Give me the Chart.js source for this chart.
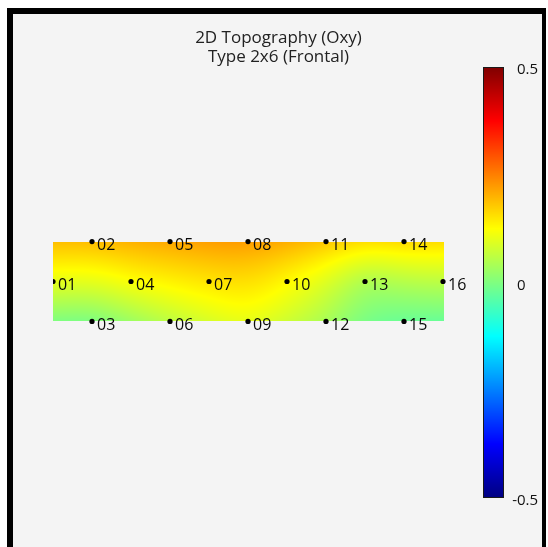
<!DOCTYPE html>
<html>
<head>
<meta charset="utf-8">
<script src="https://cdn.jsdelivr.net/npm/chart.js@4"></script>
<style>
  body { margin: 0; background: #fff; }
  #frame {
    position: absolute; left: 7px; top: 8px; width: 529px; height: 560px;
    border-left: 6px solid #000; border-top: 6px solid #000; border-right: 4px solid #000;
    background: #f4f4f4;
  }
  #topo { position: absolute; left: 0; top: 0; }
</style>
</head>
<body>
<div id="frame"></div>
<canvas id="topo" width="548" height="547"></canvas>
<script>
// canais do montage 2x6 (frontal)
const electrodes = ["01", "02", "03", "04", "05", "06", "07", "08", "09", "10", "11", "12", "13", "14", "15", "16"];
const colPos = [0, 1, 1, 2, 3, 3, 4, 5, 5, 6, 7, 7, 8, 9, 9, 10];
const rowPos = [0, 1, -1, 0, 1, -1, 0, 1, -1, 0, 1, -1, 0, 1, -1, 0];
// valores de Oxy
const oxyValues = [0.10, 0.19, 0.0, 0.12, 0.21, 0.06, 0.15, 0.22, 0.10, 0.13, 0.18, 0.04, 0.05, 0.16, -0.02, 0.06];
const cbTicks = [-0.5, 0, 0.5];
const cbMin = -0.5;
const cbMax = 0.5;

function clamp01(v) {
  return Math.max(0, Math.min(1, v));
}

// colormap jet
function jet(v) {
  const t = clamp01((v - cbMin) / (cbMax - cbMin));
  const r = clamp01(1.5 - Math.abs(4 * t - 3));
  const g = clamp01(1.5 - Math.abs(4 * t - 2));
  const b = clamp01(1.5 - Math.abs(4 * t - 1));
  return [Math.round(r * 255), Math.round(g * 255), Math.round(b * 255)];
}

// thin plate spline sobre os eletrodos
function tpsU(r) {
  return r < 1e-9 ? 0 : r * r * Math.log(r);
}

function montaTps() {
  const n = oxyValues.length;
  const m = n + 3;
  const A = [];
  for (let i = 0; i < m; i++) A.push(new Array(m + 1).fill(0));
  for (let i = 0; i < n; i++) {
    for (let j = 0; j < n; j++) {
      A[i][j] = tpsU(Math.hypot(colPos[i] - colPos[j], rowPos[i] - rowPos[j]));
    }
    A[i][n] = 1; A[i][n + 1] = colPos[i]; A[i][n + 2] = rowPos[i];
    A[n][i] = 1; A[n + 1][i] = colPos[i]; A[n + 2][i] = rowPos[i];
    A[i][m] = oxyValues[i];
  }
  // eliminação de Gauss
  for (let c = 0; c < m; c++) {
    let p = c;
    for (let r = c + 1; r < m; r++) if (Math.abs(A[r][c]) > Math.abs(A[p][c])) p = r;
    [A[c], A[p]] = [A[p], A[c]];
    for (let r = 0; r < m; r++) {
      if (r === c) continue;
      const f = A[r][c] / A[c][c];
      for (let k = c; k <= m; k++) A[r][k] -= f * A[c][k];
    }
  }
  const w = A.map((row, i) => row[m] / row[i]);
  return (x, y) => {
    let s = w[n] + w[n + 1] * x + w[n + 2] * y;
    for (let i = 0; i < n; i++) s += w[i] * tpsU(Math.hypot(x - colPos[i], y - rowPos[i]));
    return s;
  };
}

const tps = montaTps();

const heatmapPlugin = {
  id: "heatmap",
  beforeDatasetsDraw(chart) {
    const xs = chart.scales.x;
    const ys = chart.scales.y;
    const x0 = Math.round(xs.getPixelForValue(Math.min(...colPos)));
    const x1 = Math.round(xs.getPixelForValue(Math.max(...colPos))) + 1;
    const y0 = Math.round(ys.getPixelForValue(Math.max(...rowPos)));
    const y1 = Math.round(ys.getPixelForValue(Math.min(...rowPos)));
    const w = x1 - x0;
    const h = y1 - y0;
    const off = document.createElement("canvas");
    off.width = w;
    off.height = h;
    const octx = off.getContext("2d");
    const img = octx.createImageData(w, h);
    for (let j = 0; j < h; j++) {
      const yv = ys.getValueForPixel(y0 + j + 0.5);
      for (let i = 0; i < w; i++) {
        const xv = xs.getValueForPixel(x0 + i + 0.5);
        const c = jet(tps(xv, yv));
        const k = (j * w + i) * 4;
        img.data[k] = c[0];
        img.data[k + 1] = c[1];
        img.data[k + 2] = c[2];
        img.data[k + 3] = 255;
      }
    }
    octx.putImageData(img, 0, 0);
    chart.ctx.drawImage(off, x0, y0);
  },
};

const colorbarPlugin = {
  id: "colorbar",
  afterDraw(chart) {
    const ctx = chart.ctx;
    const cb = chart.scales.cb;
    const right = chart.chartArea.right;
    const left = right - 21;
    const top = Math.round(cb.getPixelForValue(cbMax));
    const bottom = Math.round(cb.getPixelForValue(cbMin));
    for (let y = top; y < bottom; y++) {
      const c = jet(cb.getValueForPixel(y + 0.5));
      ctx.fillStyle = `rgb(${c[0]},${c[1]},${c[2]})`;
      ctx.fillRect(left, y, right - left, 1);
    }
    ctx.strokeStyle = "#1a1a1a";
    ctx.lineWidth = 1;
    ctx.strokeRect(left + 0.5, top + 0.5, right - left - 1, bottom - top - 1);

    ctx.font = "15px 'Open Sans'";
    ctx.fillStyle = "#111";
    ctx.textBaseline = "middle";
    ctx.textAlign = "left";
    cbTicks.forEach((t) => {
      let x = right + 13;
      if (t < 0) x -= ctx.measureText("-").width;
      ctx.fillText(String(t), x, cb.getPixelForValue(t) + 3);
    });
  },
};

const labelPlugin = {
  id: "electrodeLabels",
  afterDatasetsDraw(chart) {
    const ctx = chart.ctx;
    const meta = chart.getDatasetMeta(0);
    ctx.save();
    ctx.font = "16px 'Open Sans'";
    ctx.fillStyle = "#0a0a0a";
    ctx.textBaseline = "middle";
    ctx.textAlign = "left";
    meta.data.forEach((pt, i) => {
      ctx.fillText(electrodes[i], pt.x + 5, pt.y + 4);
    });
    ctx.restore();
  },
};

const ctx = document.getElementById("topo").getContext("2d");

window.myChart = new Chart(ctx, {
  type: "scatter",
  data: {
    datasets: [
      {
        label: "Oxy",
        data: colPos.map((c, i) => ({ x: c, y: rowPos[i] })),
        backgroundColor: "#000",
        borderWidth: 0,
        pointRadius: 2.6,
      },
    ],
  },
  options: {
    responsive: false,
    animation: false,
    events: [],
    layout: {
      padding: { left: 53, right: 44, top: 25, bottom: 49 },
    },
    scales: {
      x: { type: "linear", display: false, min: 0, max: 11.564 },
      y: { type: "linear", display: false, min: -5.425, max: 5.375 },
      cb: { type: "linear", position: "right", display: false, min: cbMin, max: cbMax },
    },
    plugins: {
      legend: { display: false },
      tooltip: { enabled: false },
      title: {
        display: true,
        text: ["2D Topography (Oxy)", "Type 2x6 (Frontal)"],
        font: { family: "'Open Sans'", size: 17, weight: "normal", lineHeight: "19px" },
        color: "#222",
        padding: { top: 4, bottom: 0 },
      },
    },
  },
  plugins: [heatmapPlugin, colorbarPlugin, labelPlugin],
});
</script>
</body>
</html>
